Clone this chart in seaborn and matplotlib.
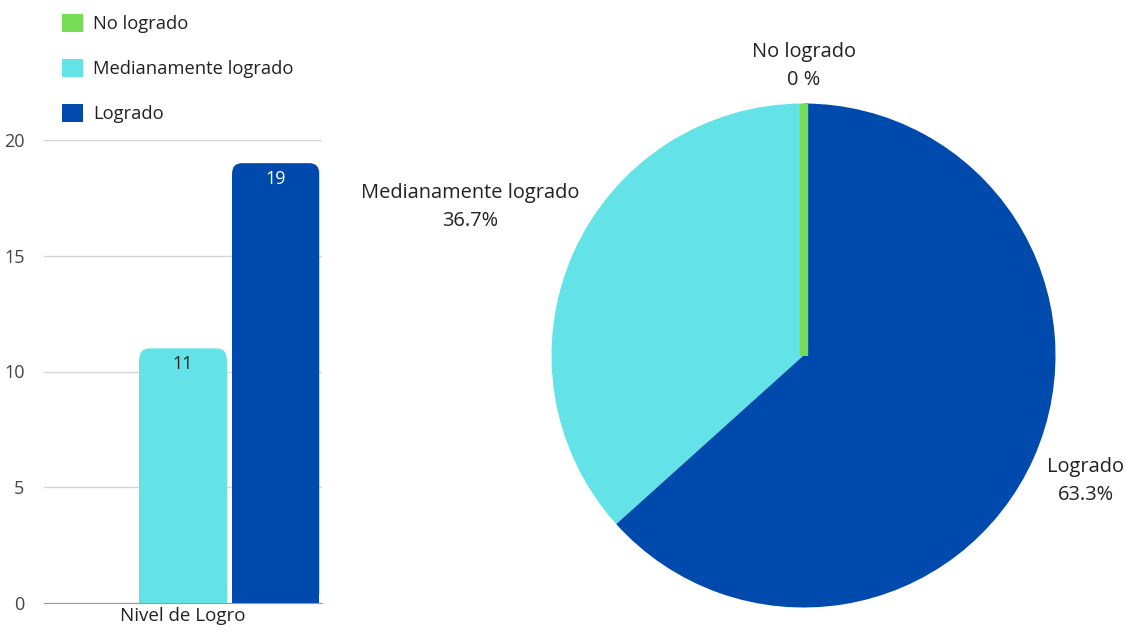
import pandas as pd
import numpy as np
import matplotlib
matplotlib.use("Agg")
import matplotlib.pyplot as plt
from matplotlib.patches import FancyBboxPatch, Patch
import seaborn as sns

# data
categorias = ['No logrado', 'Medianamente logrado', 'Logrado']
cantidades = [0, 11, 19]
porcentajes = ['0 %', '36.7%', '63.3%']
grupo = 'Nivel de Logro'
colores = ['#77dc55', '#63e3e8', '#004aad']

df = pd.DataFrame({'Nivel': [grupo] * 3, 'Estado': categorias, 'Cantidad': cantidades})

sns.set_style('white')
plt.rcParams['font.family'] = ['Open Sans', 'DejaVu Sans']

fig = plt.figure(figsize=(11.26, 6.32), dpi=100)
W, H = 1126, 632

# bar chart
ax = fig.add_axes([44 / W, 1 - 603 / H, 278 / W, (603 - 140) / H])
sns.barplot(data=df, x='Nivel', y='Cantidad', hue='Estado', hue_order=categorias,
            palette=colores, width=0.8, gap=0.06, legend=False, ax=ax,
            saturation=1, linewidth=0)
ax.set_xlim(-0.4, 0.4)
ax.set_ylim(0, 20)
ax.set_yticks([0, 5, 10, 15, 20])
ax.yaxis.grid(True, color='#d6d6d6', linewidth=1)
ax.set_axisbelow(True)
for s in ['top', 'right', 'left']:
    ax.spines[s].set_visible(False)
ax.spines['bottom'].set_color('#9a9a9a')
ax.tick_params(axis='y', length=0, pad=14, labelsize=13, labelcolor='#444444')
ax.tick_params(axis='x', length=0, pad=3, labelsize=13.5, labelcolor='#222222')
ax.set_xlabel('')
ax.set_ylabel('')

# rounded tops
xpx = 0.8 / 278
ypx = 20 / 463
rad = 10 * xpx
aspect = ypx / xpx
for p in list(ax.patches):
    h = p.get_height()
    if h <= 0:
        continue
    x, w = p.get_x(), p.get_width()
    col = p.get_facecolor()
    p.set_height(h - 10 * ypx)
    ax.add_patch(FancyBboxPatch((x, 0), w, h, boxstyle=f'round,pad=0,rounding_size={rad}',
                                mutation_aspect=aspect, facecolor=col, edgecolor='none', zorder=p.get_zorder()))

label_cols = [None, '#222222', 'white']
for cont, lc, val in zip(ax.containers, label_cols, cantidades):
    if lc is None:
        continue
    bar = cont.patches[0]
    ax.annotate(str(val), (bar.get_x() + bar.get_width() / 2, val), xytext=(0, -16),
                textcoords='offset pixels', ha='center', va='center', fontsize=13, color=lc)

# legend
handles = [Patch(facecolor=c, edgecolor='none') for c in colores]
fig.legend(handles, categorias, loc='upper left', bbox_to_anchor=(62 / W, 1 - 14 / H),
           frameon=False, fontsize=13.2, handlelength=1.15, handleheight=1.15,
           handletextpad=0.55, labelspacing=1.4, labelcolor='#222222',
           borderpad=0, borderaxespad=0)

# pie chart
R = 252
cx, cy = 803.5, 355.5
ax2 = fig.add_axes([(cx - R) / W, 1 - (cy + R) / H, 2 * R / W, 2 * R / H])
wedges, _ = ax2.pie(cantidades, colors=colores, startangle=90, counterclock=True,
                    wedgeprops=dict(linewidth=0))
ax2.set_xlim(-1, 1)
ax2.set_ylim(-1, 1)
ax2.set_aspect('equal')

# zero slice drawn as a thin strip
z = wedges[0]
ang = np.deg2rad(z.theta1)
ax2.plot([0, np.cos(ang)], [0, np.sin(ang)], color=colores[0], linewidth=6,
         solid_capstyle='butt', zorder=5)

dist = [1.15, 1.45, 1.225]
for wdg, cat, pct, d in zip(wedges, categorias, porcentajes, dist):
    mid = np.deg2rad((wdg.theta1 + wdg.theta2) / 2)
    ax2.text(d * np.cos(mid), d * np.sin(mid), f'{cat}\n{pct}', ha='center', va='center',
             fontsize=14.4, color='#222222', linespacing=1.55, clip_on=False)

fig.savefig('out.png', dpi=100)
